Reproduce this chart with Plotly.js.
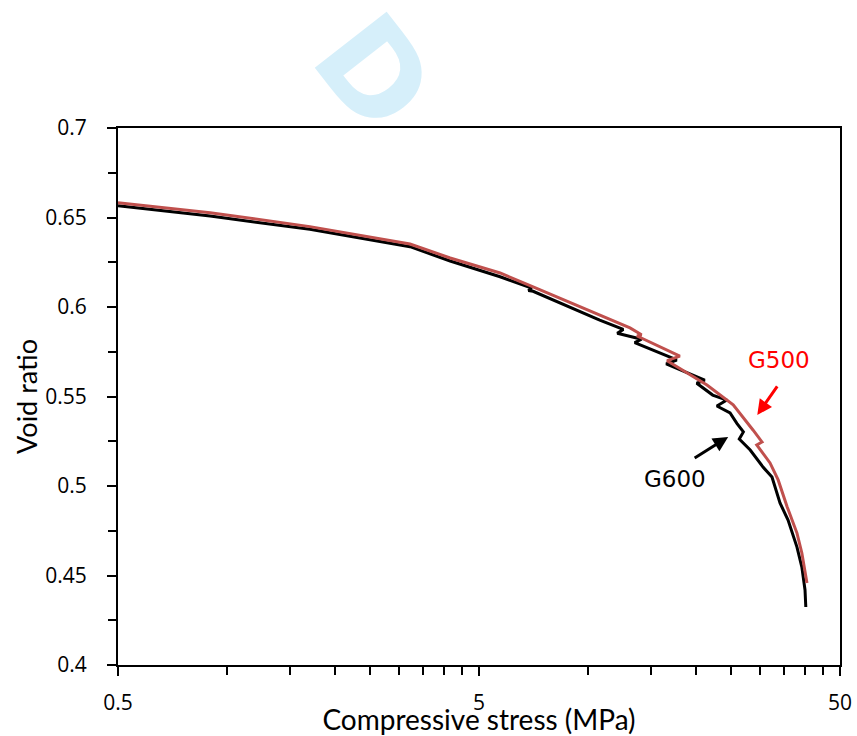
<!DOCTYPE html>
<html>
<head>
<meta charset="utf-8">
<script src="https://cdn.plot.ly/plotly-3.0.1.min.js"></script>
<style>
html,body{margin:0;padding:0;background:#fff;}
#chart{width:857px;height:736px;}
</style>
</head>
<body>
<div id="chart"></div>
<script>
// G600 (black) — compressive stress (MPa) vs void ratio
const g600Stress = [0.5, 0.90, 1.70, 3.22, 4.16, 5.72, 7.00, 6.85, 7.06, 9.52, 10.8, 12.55, 12.08, 14.1, 13.5, 17.65, 16.5, 21.1, 20.05, 22.2, 24.3, 22.8, 24.8, 25.9, 27.0, 26.3, 28.2, 30.6, 32.4, 34.1, 35.9, 38.0, 39.2, 40.0, 40.2];
const g600Void   = [0.6566, 0.6508, 0.6434, 0.6337, 0.6257, 0.6169, 0.6105, 0.6092, 0.6088, 0.5974, 0.5927, 0.5875, 0.5853, 0.5820, 0.5801, 0.5704, 0.5682, 0.5592, 0.5574, 0.5508, 0.5480, 0.5447, 0.5408, 0.5350, 0.5302, 0.5262, 0.5201, 0.5106, 0.5050, 0.4905, 0.4810, 0.4659, 0.4547, 0.4419, 0.4324];

// G500 (red)
const g500Stress = [0.5, 0.90, 1.70, 3.22, 4.16, 5.72, 7.06, 9.52, 10.8, 13.1, 14.1, 13.7, 18.0, 16.6, 21.4, 25.3, 28.7, 30.4, 29.4, 32.0, 33.7, 35.7, 38.0, 39.2, 40.5];
const g500Void   = [0.6583, 0.6527, 0.6449, 0.6352, 0.6274, 0.6190, 0.6112, 0.6002, 0.5955, 0.5883, 0.5845, 0.5838, 0.5726, 0.5700, 0.5564, 0.5453, 0.5313, 0.5246, 0.5229, 0.5129, 0.5034, 0.4883, 0.4737, 0.4626, 0.4458];

// Axis ticks
const xTickVals = [0.5, 5, 50];
const xTickText = ["0.5", "5", "50"];
const xMinorVals = [1, 1.5, 2, 2.5, 3, 3.5, 4, 4.5, 10, 15, 20, 25, 30, 35, 40, 45];
const yTickVals = [0.4, 0.45, 0.5, 0.55, 0.6, 0.65, 0.7];
const yTickText = ["0.4", "0.45", "0.5", "0.55", "0.6", "0.65", "0.7"];

const traces = [
  {x: g600Stress, y: g600Void, type: 'scatter', mode: 'lines', name: 'G600',
   line: {color: '#000000', width: 3}},
  {x: g500Stress, y: g500Void, type: 'scatter', mode: 'lines', name: 'G500',
   line: {color: '#C0504D', width: 3}}
];

const tickFont = {family: 'Open Sans, DejaVu Sans, sans-serif', size: 21, color: '#000'};

const layout = {
  width: 857, height: 736,
  margin: {l: 118, r: 17, t: 128, b: 71},
  paper_bgcolor: '#fff', plot_bgcolor: '#fff',
  showlegend: false,
  xaxis: {
    type: 'log', range: [Math.log10(0.5), Math.log10(50)],
    tickmode: 'array', tickvals: xTickVals, ticktext: xTickText,
    ticks: 'outside', ticklen: 9, tickwidth: 2, tickcolor: '#000',
    minor: {tickmode: 'array', tickvals: xMinorVals, ticks: 'outside', ticklen: 8, tickwidth: 2, tickcolor: '#000', showgrid: false},
    showline: true, linecolor: '#000', linewidth: 2, mirror: true,
    showgrid: false, zeroline: false,
    tickfont: tickFont, ticklabelstandoff: 9,
    title: {text: 'Compressive stress (MPa)', font: {family: 'Lato, sans-serif', size: 28, color: '#000'}, standoff: 1}
  },
  yaxis: {
    range: [0.4, 0.7],
    tickmode: 'array', tickvals: yTickVals, ticktext: yTickText,
    ticks: 'outside', ticklen: 9, tickwidth: 2, tickcolor: '#000',
    minor: {dtick: 0.025, tick0: 0.4, ticks: 'outside', ticklen: 8, tickwidth: 2, tickcolor: '#000', showgrid: false},
    showline: true, linecolor: '#000', linewidth: 2, mirror: true,
    showgrid: false, zeroline: false,
    tickfont: tickFont, ticklabelstandoff: 16,
    title: {text: 'Void ratio', font: {family: 'Lato, sans-serif', size: 27, color: '#000'}, standoff: 0}
  },
  annotations: [
    {xref: 'paper', yref: 'paper', x: 0.354, y: 1.103, xanchor: 'center', yanchor: 'middle',
     text: '<b>D</b>', showarrow: false,
     textangle: 52, font: {family: 'DejaVu Sans, sans-serif', size: 125, color: '#D6EFFA'}},
    {x: Math.log10(33.9), y: 0.5704, text: 'G500', showarrow: false,
     font: {family: 'DejaVu Sans, Verdana, sans-serif', size: 23, color: '#FF0000'}},
    {x: Math.log10(29.5), y: 0.5397, ax: 21, ay: -30, text: '', showarrow: true,
     arrowhead: 2, arrowsize: 1, arrowwidth: 3, arrowcolor: '#FF0000'},
    {x: Math.log10(17.45), y: 0.5039, text: 'G600', showarrow: false,
     font: {family: 'DejaVu Sans, Verdana, sans-serif', size: 23, color: '#000'}},
    {x: Math.log10(24.5), y: 0.5274, ax: -35, ay: 22, text: '', showarrow: true,
     arrowhead: 2, arrowsize: 1, arrowwidth: 3, arrowcolor: '#000'}
  ]
};

Plotly.newPlot('chart', traces, layout, {displayModeBar: false, staticPlot: true});
</script>
</body>
</html>
